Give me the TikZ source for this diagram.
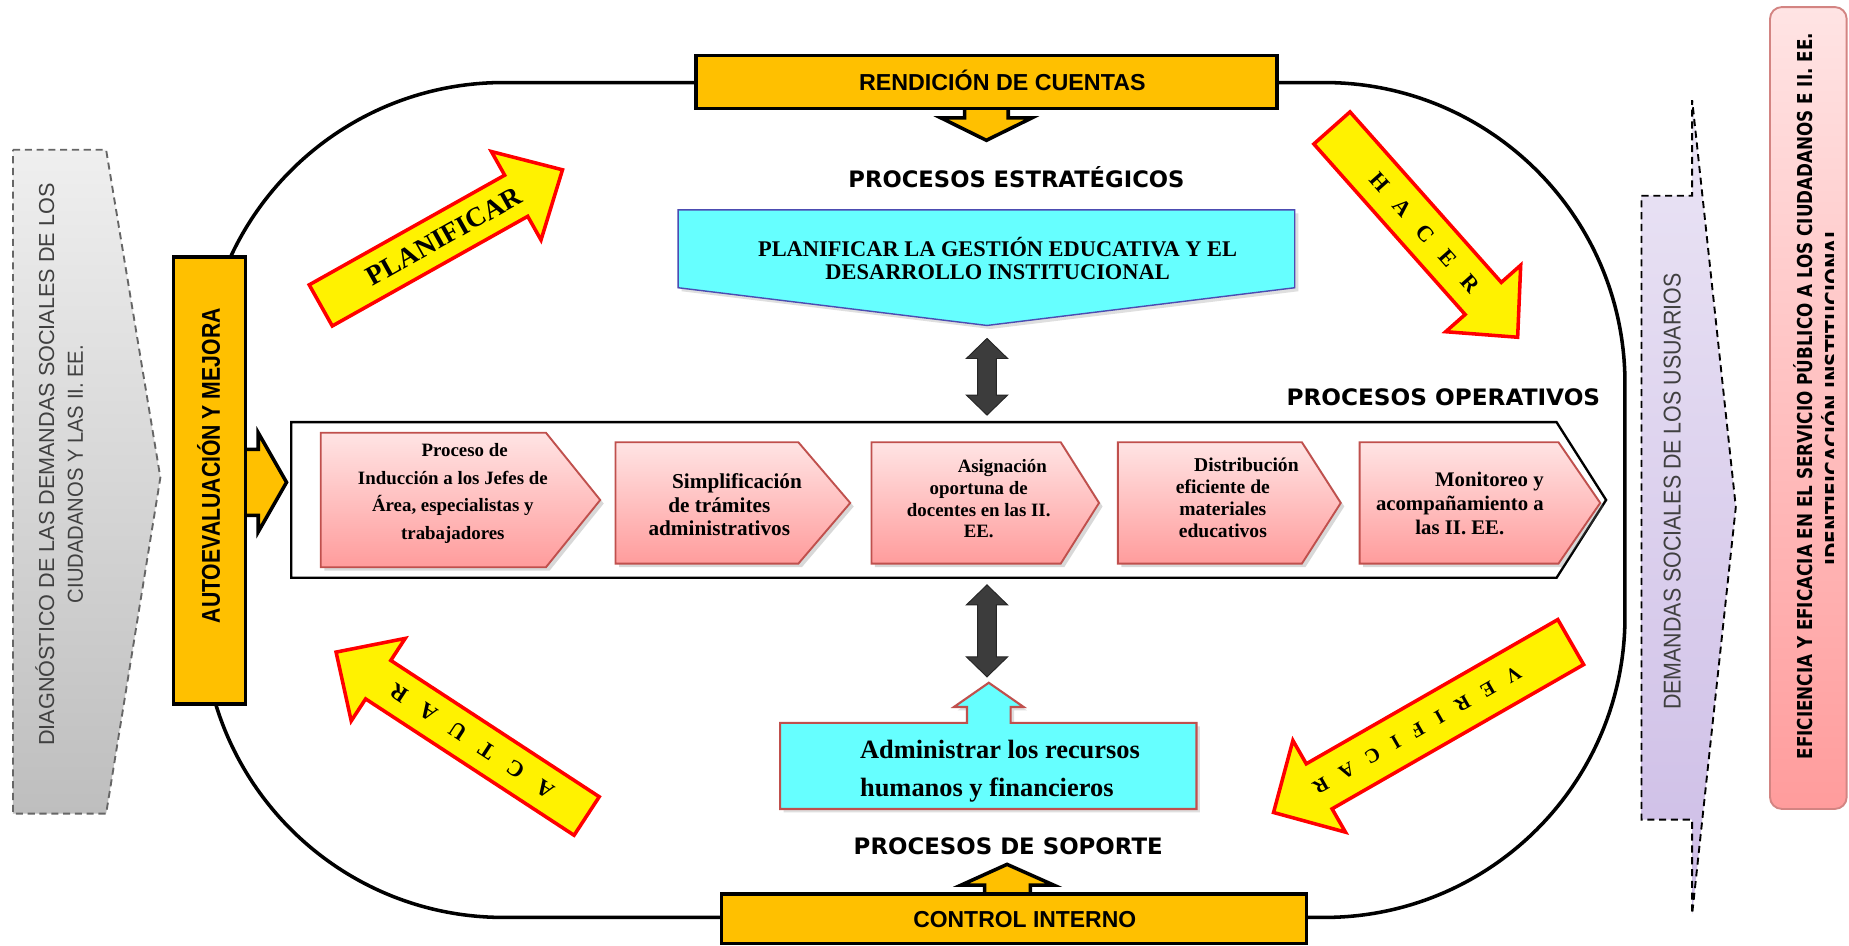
\documentclass[tikz,border=0pt]{standalone}
\usepackage{fontspec}
\setmainfont{Liberation Serif}
\newfontfamily\lsans{Liberation Sans}
\newfontfamily\heavy{DejaVu Sans}
\usetikzlibrary{calc,shadows}
\definecolor{orng}{HTML}{FFC000}
\definecolor{cyanf}{HTML}{66FFFF}
\definecolor{pinkt}{HTML}{FFE4E4}
\definecolor{pinkb}{HTML}{FF9C9C}
\definecolor{pinkd}{HTML}{C0504D}
\definecolor{darkg}{HTML}{3C3C3C}
\definecolor{txtg}{HTML}{404040}
\definecolor{lavt}{HTML}{EBE5F5}
\definecolor{lavb}{HTML}{CDBDE6}
\definecolor{grayt}{HTML}{EFEFEF}
\definecolor{grayb}{HTML}{BEBEBE}
\newcommand{\fitw}[2]{\resizebox{#1}{\height}{#2}}
\newcommand{\drawyarrow}[6]{%
  \coordinate (#6b) at ($(#2)!#5!(#1)$);
  \draw[yarr] ($(#1)!#3!90:(#2)$) -- ($(#6b)!#3!-90:(#1)$) -- ($(#6b)!#4!-90:(#1)$) -- (#2)
    -- ($(#6b)!#4!90:(#1)$) -- ($(#6b)!#3!90:(#1)$) -- ($(#1)!#3!-90:(#2)$) -- cycle;}
\tikzset{
  ob/.style={fill=orng, draw=black, line width=1.5pt},
  yarr/.style={fill=yellow, draw=red, line width=1.5pt, line join=miter},
  pinkbox/.style={draw=pinkd, line width=0.8pt, top color=pinkt, bottom color=pinkb,
     drop shadow={opacity=0.3, shadow xshift=1.5pt, shadow yshift=-1.5pt}},
  ptext/.style={align=center, inner sep=0pt},
  dbl/.style={fill=darkg, draw=black!85, line width=0.4pt},
  lab/.style={inner sep=0pt},
  sidebox/.style={dash pattern=on 3pt off 2pt, line width=0.8pt},
}
\begin{document}
\begin{tikzpicture}[x=0.5pt,y=-0.5pt]
\useasboundingbox (0,0) rectangle (1568,802);
\fill[white] (0,0) rectangle (1568,802);

% main loop
\draw[line width=1.5pt, rounded corners=127.5pt] (172,70) rectangle (1378,778);

% left grey arrow
\draw[sidebox, draw=gray!80!black, top color=grayt, bottom color=grayb]
  (11,127) -- (90,127) -- (136,405) -- (90,690) -- (11,690) -- cycle;
\node[rotate=90, text=txtg, lab, font=\lsans\fontsize{9.2}{10}\selectfont] (diag1) at (38,394)
  {\fitw{238.5pt}{DIAGNÓSTICO DE LAS DEMANDAS SOCIALES DE LOS}};
\node[rotate=90, text=txtg, lab, font=\lsans\fontsize{9.2}{10}\selectfont] (diag2) at (64,402)
  {\fitw{109.5pt}{CIUDADANOS Y LAS II. EE.}};

% right lavender arrow
\draw[sidebox, draw=black, top color=lavt, bottom color=lavb]
  (1392,166) -- (1435,166) -- (1435,85) -- (1472,430) -- (1435,775) -- (1435,695) -- (1392,695) -- cycle;
\node[rotate=90, text=txtg, lab, font=\lsans\fontsize{10.3}{12}\selectfont] (dem) at (1418,417)
  {\fitw{185pt}{DEMANDAS SOCIALES DE LOS USUARIOS}};

% right pink box
\draw[draw=pinkd!70, line width=0.8pt, top color=pinkt, bottom color=pinkb, rounded corners=5pt]
  (1501,6) rectangle (1566,686);
\node[rotate=90, lab, font=\heavy\bfseries\fontsize{8.7}{10}\selectfont] (efi1) at (1529,336)
  {\fitw{308pt}{EFICIENCIA Y EFICACIA EN EL SERVICIO PÚBLICO A LOS CIUDADANOS E II. EE.}};
\begin{scope}
  \clip (1501,0) rectangle (1555,802);
  \node[rotate=90, lab, font=\heavy\bfseries\fontsize{8.7}{10}\selectfont] (efi2) at (1553,336)
    {\fitw{143.5pt}{IDENTIFICACIÓN INSTITUCIONAL}};
\end{scope}

% autoevaluacion
\draw[ob] (205,381) -- (219,381) -- (219,367) -- (243,409) -- (219,451) -- (219,437) -- (205,437) -- cycle;
\node[ob, minimum width=30.5pt, minimum height=189.5pt, inner sep=0pt] (auto) at (177.5,407.5) {};
\node[rotate=90, lab, font=\lsans\bfseries\fontsize{10.9}{12}\selectfont] (autot) at (177,395)
  {\fitw{133.5pt}{AUTOEVALUACIÓN Y MEJORA}};

% rendicion de cuentas
\draw[ob] (818,90) -- (818,100) -- (798,100) -- (836.5,119) -- (875,100) -- (855,100) -- (855,90) -- cycle;
\node[ob, minimum width=246.5pt, minimum height=22.5pt, inner sep=0pt] (rend) at (836.5,69.5) {};
\node[lab, font=\lsans\bfseries\fontsize{9.8}{11}\selectfont] (rendt) at (850,68)
  {\fitw{121.5pt}{RENDICIÓN DE CUENTAS}};

% control interno
\draw[ob] (835,760) -- (835,750.6) -- (815,750.6) -- (854,733) -- (893.6,750.6) -- (873.7,750.6) -- (873.7,760) -- cycle;
\node[ob, minimum width=248pt, minimum height=21pt, inner sep=0pt] (ctrl) at (860,779) {};
\node[lab, font=\lsans\bfseries\fontsize{9.8}{11}\selectfont] (ctrlt) at (869,780)
  {\fitw{94.5pt}{CONTROL INTERNO}};

% section labels
\node[lab, font=\heavy\bfseries\fontsize{9.6}{11}\selectfont] (pe) at (862,150)
  {\fitw{142.5pt}{PROCESOS ESTRATÉGICOS}};
\node[lab, font=\heavy\bfseries\fontsize{9.6}{11}\selectfont] (po) at (1224,337)
  {\fitw{133pt}{PROCESOS OPERATIVOS}};
\node[lab, font=\heavy\bfseries\fontsize{9.6}{11}\selectfont] (ps) at (855,718)
  {\fitw{131pt}{PROCESOS DE SOPORTE}};

% strategic pentagon
\draw[fill=cyanf, draw=blue!40!gray, line width=0.6pt,
      drop shadow={opacity=0.25, shadow xshift=1.5pt, shadow yshift=-1.5pt}]
  (575,178) -- (1098,178) -- (1098,244) -- (837,276) -- (575,244) -- cycle;
\node[ptext, font=\bfseries\fontsize{9.5}{9.8}\selectfont] (pgt) at (846,219)
  {PLANIFICAR LA GESTIÓN EDUCATIVA Y EL\\DESARROLLO INSTITUCIONAL};

% double arrows
\draw[dbl] (837,287) -- (854.5,304) -- (845,304) -- (845,335) -- (854.5,335) -- (837,352)
  -- (819.5,335) -- (829,335) -- (829,304) -- (819.5,304) -- cycle;
\draw[dbl] (837,496) -- (854.5,513) -- (845,513) -- (845,557) -- (854.5,557) -- (837,574)
  -- (819.5,557) -- (829,557) -- (829,513) -- (819.5,513) -- cycle;

% operative frame
\draw[line width=1pt, fill=white] (247,358) -- (1320,358) -- (1362,424) -- (1320,490) -- (247,490) -- cycle;

% operative chevrons
\draw[pinkbox] (272,367) -- (463,367) -- (509,424) -- (463,481) -- (272,481) -- cycle;
\draw[pinkbox] (522,375) -- (677,375) -- (721,426.5) -- (677,478) -- (522,478) -- cycle;
\draw[pinkbox] (739,375) -- (899.5,375) -- (932,426.5) -- (899.5,478) -- (739,478) -- cycle;
\draw[pinkbox] (948,375) -- (1104,375) -- (1137,426.5) -- (1104,478) -- (948,478) -- cycle;
\draw[pinkbox] (1153,375) -- (1321.6,375) -- (1357,426.5) -- (1321.6,478) -- (1153,478) -- cycle;

\node[ptext, font=\bfseries\fontsize{8}{11.8}\selectfont] (op1) at (384,418.5)
  {\hspace*{10pt}Proceso de\\Inducción a los Jefes de\\Área, especialistas y\\trabajadores};
\node[ptext, font=\bfseries\fontsize{9}{10}\selectfont] (op2) at (610,428)
  {\hspace*{15pt}Simplificación\\de trámites\\administrativos};
\node[ptext, font=\bfseries\fontsize{8}{9.2}\selectfont] (op3) at (830,423)
  {\hspace*{20pt}Asignación\\oportuna de\\docentes en las II.\\EE.};
\node[ptext, font=\bfseries\fontsize{8.3}{9.4}\selectfont] (op4) at (1037,422)
  {\hspace*{20pt}Distribución\\eficiente de\\materiales\\educativos};
\node[ptext, font=\bfseries\fontsize{8.8}{10}\selectfont] (op5) at (1238,427)
  {\hspace*{25pt}Monitoreo y\\acompañamiento a\\las II. EE.};

% support box
\draw[fill=cyanf, draw=pinkd, line width=0.9pt,
      drop shadow={opacity=0.25, shadow xshift=1.5pt, shadow yshift=-1.5pt}]
  (661.6,613) -- (820,613) -- (820,599.5) -- (809,599.5) -- (838.5,579) -- (868,599.5)
  -- (857,599.5) -- (857,613) -- (1014.6,613) -- (1014.6,686) -- (661.6,686) -- cycle;
\node[anchor=west, align=left, inner sep=0pt, font=\bfseries\fontsize{11.2}{16}\selectfont] (adm) at (729,654)
  {Administrar los recursos\\humanos y financieros};

% yellow cycle arrows
\coordinate (plT) at (272,259); \coordinate (plP) at (477,144);
\drawyarrow{plT}{plP}{10pt}{21.5pt}{22.5pt}{pl}
\path (plT) -- (plP) node[pos=0.51, sloped, inner sep=0pt, font=\bfseries\fontsize{11.7}{12}\selectfont] (plt) {PLANIFICAR};

\coordinate (haT) at (1129.5,108.5); \coordinate (haP) at (1287,286);
\drawyarrow{haT}{haP}{10.25pt}{21.25pt}{22pt}{ha}
\path (haT) -- (haP) node[pos=0.5, sloped, inner sep=0pt, font=\bfseries\fontsize{9.5}{10}\selectfont] (hat)
  {H\hspace{7.7pt}A\hspace{7.7pt}C\hspace{7.7pt}E\hspace{7.7pt}R};

\coordinate (acT) at (497.5,692); \coordinate (acP) at (285,553);
\drawyarrow{acT}{acP}{9.75pt}{20.9pt}{21.35pt}{ac}
\path (acT) -- (acP) node[pos=0.458, sloped, allow upside down, inner sep=0pt, font=\bfseries\fontsize{9.6}{10}\selectfont] (act)
  {A\hspace{8pt}C\hspace{8pt}T\hspace{8pt}U\hspace{8pt}A\hspace{8pt}R};

\coordinate (veT) at (1332,544.5); \coordinate (veP) at (1080,689);
\drawyarrow{veT}{veP}{11pt}{22.4pt}{22.3pt}{ve}
\path (veT) -- (veP) node[pos=0.517, sloped, allow upside down, inner sep=0pt, font=\bfseries\fontsize{8.5}{10}\selectfont] (vet)
  {V\hspace{6.5pt}E\hspace{6.5pt}R\hspace{6.5pt}I\hspace{6.5pt}F\hspace{6.5pt}I\hspace{6.5pt}C\hspace{6.5pt}A\hspace{6.5pt}R};
\end{tikzpicture}
\end{document}
